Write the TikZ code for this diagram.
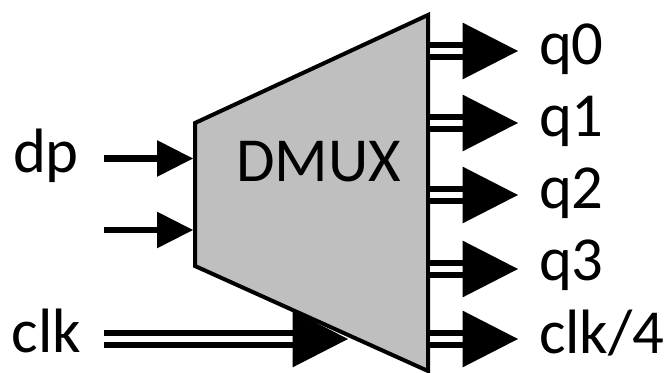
\documentclass[tikz,border=0pt]{standalone}
\usepackage{fontspec}
\setmainfont{Carlito}
\usetikzlibrary{arrows.meta}
\definecolor{muxgray}{RGB}{191,191,191}
\tikzset{
  x=0.75pt,y=-0.75pt,
  muxbody/.style={draw=black,fill=muxgray,line width=3pt,line join=miter},
  lbl/.style={inner sep=0pt,outer sep=0pt,anchor=base west,font=\fontsize{47}{47}\selectfont},
  single/.style={line width=5.5pt,-{Triangle[length=27pt,width=27.5pt,line width=0pt]}},
  bus/.style={line width=4.3pt,double=white,double distance=4.8pt,-{Triangle[length=41.5pt,width=42.5pt,line width=0pt]}}
}
\begin{document}
\begin{tikzpicture}
\useasboundingbox (0,0) rectangle (665,373);
\coordinate (tl) at (195,123);
\coordinate (tr) at (428,15);
\coordinate (br) at (428,371);
\coordinate (bl) at (195,266);
\draw[muxbody] (tl) -- (tr) -- (br) -- (bl) -- cycle;
\node[lbl] (dmux) at (236,182) {DMUX};
\node[lbl] (dp) at (13,173) {dp};
\node[lbl] (clk) at (12,353) {clk};
\node[lbl] (q0) at (539,65) {q0};
\node[lbl] (q1) at (539,137) {q1};
\node[lbl] (q2) at (539,209) {q2};
\node[lbl] (q3) at (539,281) {q3};
\node[lbl] (clk4) at (539,354) {clk/4};
\coordinate (i0s) at (104,158.5); \coordinate (i0e) at (193,158.5);
\coordinate (i1s) at (104,230); \coordinate (i1e) at (193,230);
\coordinate (cs) at (104,339); \coordinate (ce) at (348,339);
\draw[single] (i0s) -- (i0e);
\draw[single,line width=4.8pt] (i1s) -- (i1e);
\draw[bus] (cs) -- (ce);
\foreach \n/\y in {a/51,b/123,c/195,d/269,e/339}{
  \coordinate (o\n s) at (430,\y);
  \coordinate (o\n e) at (518,\y);
  \draw[bus] (o\n s) -- (o\n e);
}
\end{tikzpicture}
\end{document}
